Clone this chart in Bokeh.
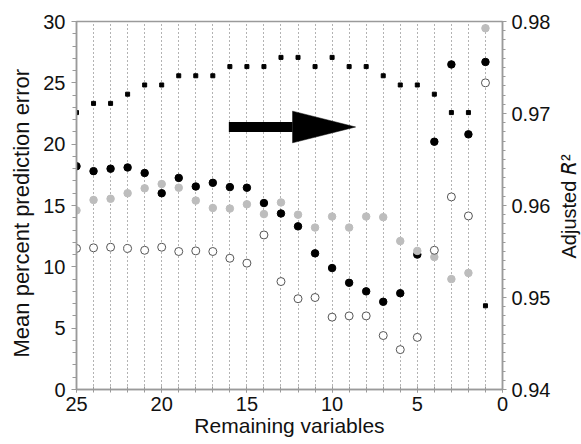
import numpy as np
from bokeh.plotting import figure
from bokeh.models import (Range1d, LinearAxis, FixedTicker, Label,
                          NumeralTickFormatter, ColumnDataSource)
from bokeh.embed import file_html
from bokeh.resources import INLINE

# ---------------- data ----------------
remaining = list(range(25, 0, -1))  # 25 .. 1
black_err = [18.2, 17.8, 18.0, 18.1, 17.65, 16.0, 17.25, 16.55, 16.85, 16.5,
             16.45, 15.2, 14.35, 13.3, 11.1, 9.9, 8.7, 8.0, 7.15, 7.85,
             11.0, 20.2, 26.5, 20.8, 26.7]
gray_err = [14.6, 15.45, 15.55, 16.0, 16.4, 16.75, 16.45, 15.4, 14.8, 14.75,
            15.1, 14.3, 15.25, 14.25, 13.2, 14.1, 13.2, 14.1, 14.05, 12.1,
            11.3, 10.8, 9.0, 9.5, 29.45]
open_err = [11.5, 11.55, 11.6, 11.5, 11.35, 11.6, 11.25, 11.3, 11.25, 10.7,
            10.3, 12.6, 8.8, 7.4, 7.5, 5.9, 6.0, 6.0, 4.4, 3.25,
            4.25, 11.35, 15.7, 14.15, 25.0]
adj_r2 = [0.9701, 0.9711, 0.9711, 0.9721, 0.9731, 0.9731, 0.9741, 0.9741, 0.9741, 0.9751,
          0.9751, 0.9751, 0.9761, 0.9761, 0.9751, 0.9761, 0.9751, 0.9751, 0.9741, 0.9731,
          0.9731, 0.9721, 0.9701, 0.9701, 0.9491]

x_ticks = [0, 5, 10, 15, 20, 25]
y_ticks = [0, 5, 10, 15, 20, 25, 30]
r2_ticks = [0.94, 0.95, 0.96, 0.97, 0.98]

# arrow (annotation, in data units of the left axis)
arrow_x_start, arrow_x_head, arrow_x_tip = 16.06, 12.32, 8.62
arrow_y, arrow_half = 21.4, 1.29

src = ColumnDataSource(dict(n=remaining, b=black_err, g=gray_err,
                            o=open_err, r=adj_r2))

FONT = "Liberation Sans"
AX = "#9a9a9a"
TXT = "#111111"

p = figure(width=581, height=444, output_backend="svg", toolbar_location=None,
           x_range=Range1d(25, 0), y_range=Range1d(0, 30),
           min_border_left=76, min_border_right=79, min_border_top=21,
           min_border_bottom=55)
p.extra_y_ranges = {"r2": Range1d(0.94, 0.98)}
p.outline_line_color = AX
p.outline_line_width = 1.5
p.background_fill_color = "white"
p.border_fill_color = "white"

# grid
p.ygrid.visible = False
p.xgrid.ticker = FixedTicker(ticks=list(range(1, 25)))
p.xgrid.grid_line_color = "#666666"
p.xgrid.grid_line_dash = "1 3"
p.xgrid.grid_line_width = 1

# axes
for ax in (p.xaxis[0], p.yaxis[0]):
    ax.axis_line_color = AX
    ax.axis_line_width = 1.5
    ax.major_tick_line_color = AX
    ax.minor_tick_line_color = AX
    ax.major_label_text_font = FONT
    ax.major_label_text_font_size = "20px"
    ax.major_label_text_color = TXT
    ax.axis_label_text_font = FONT
    ax.axis_label_text_font_size = "21px"
    ax.axis_label_text_font_style = "normal"
    ax.axis_label_text_color = TXT

p.xaxis.ticker = FixedTicker(ticks=x_ticks, minor_ticks=list(range(0, 26)))
p.xaxis.major_tick_in = 3
p.xaxis.major_tick_out = 3
p.xaxis.minor_tick_in = 3
p.xaxis.minor_tick_out = 3
p.xaxis.major_label_standoff = 4
p.xaxis.axis_label = "Remaining variables"
p.xaxis.axis_label_standoff = 0

p.yaxis.ticker = FixedTicker(ticks=y_ticks, minor_ticks=list(range(0, 31)))
p.yaxis.major_tick_in = 0
p.yaxis.major_tick_out = 5
p.yaxis.minor_tick_in = 0
p.yaxis.minor_tick_out = 4
p.yaxis.major_label_standoff = 6

r_ax = LinearAxis(y_range_name="r2",
                  ticker=FixedTicker(ticks=r2_ticks,
                                     minor_ticks=[round(0.94 + i * 0.001, 3) for i in range(41)]),
                  formatter=NumeralTickFormatter(format="0.00"))
r_ax.axis_line_color = AX
r_ax.axis_line_width = 1.5
r_ax.major_tick_line_color = AX
r_ax.minor_tick_line_color = AX
r_ax.major_tick_in = 0
r_ax.major_tick_out = 4
r_ax.minor_tick_in = 0
r_ax.minor_tick_out = 3
r_ax.major_label_standoff = 5
r_ax.major_label_text_font = FONT
r_ax.major_label_text_font_size = "20px"
r_ax.major_label_text_color = TXT
p.add_layout(r_ax, "right")

# axis titles placed in the side panels
p.add_layout(Label(x=15, y=131, x_units="screen", y_units="screen",
                   angle=np.pi / 2, text="Adjusted \U0001D619\u00b2",
                   text_align="left", text_baseline="alphabetic",
                   text_font=FONT, text_font_size="20px", text_color=TXT),
             "right")
p.add_layout(Label(x=6, y=32, x_units="screen", y_units="screen",
                   angle=np.pi / 2, text="Mean percent prediction error",
                   text_align="left", text_baseline="alphabetic",
                   text_font=FONT, text_font_size="22px", text_color=TXT),
             "left")

# data
p.scatter("n", "b", source=src, size=7.5, color="black")
p.scatter("n", "g", source=src, size=7.5, color="#bdbdbd")
p.scatter("n", "o", source=src, size=8, fill_color="white",
          line_color="#555555", line_width=1)
p.scatter("n", "r", source=src, y_range_name="r2", marker="square",
          size=4, color="black")

# arrow
p.segment(x0=[arrow_x_start], y0=[arrow_y], x1=[arrow_x_head], y1=[arrow_y],
          line_width=10, line_color="black", line_cap="butt")
p.patch([arrow_x_head, arrow_x_head, arrow_x_tip],
        [arrow_y + arrow_half, arrow_y - arrow_half, arrow_y],
        color="black", line_width=0.5)

open("out.html", "w").write(file_html(p, INLINE))
